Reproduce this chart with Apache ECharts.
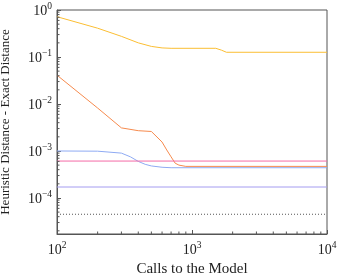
<!DOCTYPE html>
<html><head><meta charset="utf-8">
<script src="https://cdn.jsdelivr.net/npm/echarts@6/dist/echarts.min.js"></script>
<style>html,body{margin:0;padding:0;background:#fff}#c{width:342px;height:275px}</style>
</head><body><div id="c"></div>
<script>
// ---- data ----
const xRange = [100, 10000];
const yRange = [1.71e-5, 1];
const yellowSeries = [[100,0.72],[200,0.41],[300,0.275],[400,0.2],[500,0.168],[600,0.156],[700,0.153],[1500,0.153],[1650,0.14],[1800,0.126],[10000,0.126]];
const orangeSeries = [[100,0.041],[200,0.0082],[300,0.0031],[400,0.0027],[500,0.0026],[600,0.00155],[650,0.00105],[700,0.00075],[750,0.00055],[800,0.0005],[900,0.00047],[10000,0.00047]];
const blueSeries = [[100,0.001],[200,0.00099],[300,0.0009],[350,0.00075],[400,0.0006],[450,0.00052],[500,0.00048],[600,0.00045],[700,0.00044],[10000,0.00044]];
const pinkSeries = [[100,0.00061],[10000,0.00061]];
const purpleSeries = [[100,0.000171],[10000,0.000171]];
const dottedSeries = [[100,4.5e-5],[10000,4.5e-5]];
const xMinorTicks = [200,300,400,500,600,700,800,900,2000,3000,4000,5000,6000,7000,8000,9000];
const yMinorTicks = [2e-5,3e-5,4e-5,5e-5,6e-5,7e-5,8e-5,9e-5,2e-4,3e-4,4e-4,5e-4,6e-4,7e-4,8e-4,9e-4,2e-3,3e-3,4e-3,5e-3,6e-3,7e-3,8e-3,9e-3,0.02,0.03,0.04,0.05,0.06,0.07,0.08,0.09,0.2,0.3,0.4,0.5,0.6,0.7,0.8,0.9];
const xName = 'Calls to the Model';
const yName = 'Heuristic Distance - Exact Distance';

const FONT = 'Liberation Serif';
const AX = '#555';
function powLabel(v){
  const l = Math.log10(v), e = Math.round(l);
  if (Math.abs(l - e) > 1e-6) return '';
  return '{b|10}{s|' + String(e).replace('-', '\u2212') + '}';
}
const rich = {
  b:{fontFamily:FONT,fontSize:14,color:'#222',verticalAlign:'bottom'},
  s:{fontFamily:FONT,fontSize:9.5,color:'#222',verticalAlign:'top',padding:[0,0,7,0]}
};
function tickSeries(data, axis){
  return {type:'custom',coordinateSystem:'cartesian2d',silent:true,z:5,clip:false,
    data: data.map(v => axis==='x' ? [v, yRange[0]] : [xRange[0], v]),
    renderItem:(p,api)=>{
      const pt = api.coord([api.value(0), api.value(1)]);
      const shape = axis==='x' ? {x1:pt[0],y1:pt[1],x2:pt[0],y2:pt[1]-2.5} : {x1:pt[0],y1:pt[1],x2:pt[0]+2.5,y2:pt[1]};
      return {type:'line',shape,style:{stroke:AX,lineWidth:1}};
    }};
}
function lineSeries(data, color, extra){
  return Object.assign({type:'line',data,showSymbol:false,symbol:'none',
    lineStyle:{color,width:1},itemStyle:{color},z:3}, extra||{});
}
const chart = echarts.init(document.getElementById('c'), null, {renderer:'canvas'});
chart.setOption({
  animation:false,
  grid:{left:57,right:15,top:10,bottom:41,containLabel:false,outerBoundsMode:'none',show:true,borderColor:AX,borderWidth:1,backgroundColor:'transparent'},
  xAxis:{type:'log',logBase:10,min:xRange[0],max:xRange[1],interval:1,
    name:xName,nameLocation:'middle',nameGap:23,
    nameTextStyle:{fontFamily:FONT,fontSize:15,color:'#222'},
    axisLine:{show:true,lineStyle:{color:AX,width:1}},
    axisTick:{show:true,inside:true,length:4,lineStyle:{color:AX}},
    axisLabel:{formatter:powLabel,rich,margin:6},
    splitLine:{show:false},minorTick:{show:false}},
  yAxis:{type:'log',logBase:10,min:yRange[0],max:yRange[1],
    name:yName,nameLocation:'middle',nameGap:45,
    nameTextStyle:{fontFamily:FONT,fontSize:13,color:'#222'},
    axisLine:{show:true,lineStyle:{color:AX,width:1}},
    axisTick:{show:true,inside:true,length:4,lineStyle:{color:AX}},
    axisLabel:{formatter:powLabel,rich,margin:5,showMinLabel:false},
    splitLine:{show:false},minorTick:{show:false}},
  series:[
    lineSeries(dottedSeries,'#555',{lineStyle:{color:'#555',width:1,type:[1,2]}}),
    lineSeries(purpleSeries,'#a49cf0'),
    lineSeries(blueSeries,'#8eaaf3'),
    lineSeries(orangeSeries,'#f68a4d'),
    lineSeries(pinkSeries,'#f46aa6'),
    lineSeries(yellowSeries,'#fbbe33'),
    tickSeries(xMinorTicks,'x'),
    tickSeries(yMinorTicks,'y')
  ]
});
</script></body></html>
